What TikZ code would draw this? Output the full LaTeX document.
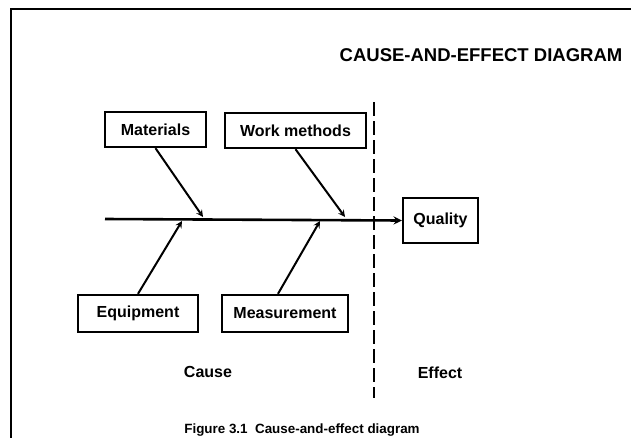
\documentclass[tikz,border=0pt]{standalone}
\usepackage{fontspec}
\setmainfont{Liberation Sans}
\begin{document}
\begin{tikzpicture}[x=1pt,y=-1pt,>=stealth,line width=2pt,
	cbox/.style={draw,line width=2.4pt,inner sep=0pt,font=\fontsize{16}{18}\selectfont\bfseries},
	lbl/.style={font=\fontsize{16}{18}\selectfont\bfseries}]
	\clip (0,0) rectangle (631,437);
	\draw[line width=2.5pt] (11,445) -- (11,9) -- (640,9);
	\node[font=\fontsize{18.5}{20}\selectfont\bfseries] (title) at (481,55) {CAUSE-AND-EFFECT DIAGRAM};
	% cause boxes
	\node[cbox,minimum width=101,minimum height=35] (mat) at (155.5,129.5) {Materials};
	\node[cbox,minimum width=141,minimum height=35] (wm) at (295.5,130.5) {Work methods};
	\node[cbox,minimum width=120,minimum height=37] (eq) at (138,313.5) {Equipment};
	\node[cbox,minimum width=126,minimum height=37] (ms) at (285,313.5) {Measurement};
	\node[cbox,minimum width=75,minimum height=45] (q) at (440.5,220.5) {Quality};
	% spine
	\coordinate (tail) at (105,219);
	\draw[->,line width=2.6pt] (tail) -- (q.west);
	\coordinate (m1) at (203,217);
	\coordinate (m2) at (345,217);
	\coordinate (e1) at (182,221);
	\coordinate (e2) at (320,221);
	\draw[->] (mat.south) -- (m1);
	\draw[->] (wm.south) -- (m2);
	\draw[->] (eq.north) -- (e1);
	\draw[->] ([xshift=-7pt]ms.north) -- (e2);
	% divider
	\draw[line width=2.4pt,dash pattern=on 14pt off 5pt] (374,102) -- (374,398);
	\node[lbl] (cause) at (208,372) {Cause};
	\node[lbl] (effect) at (440,373) {Effect};
	\node[font=\fontsize{13.4}{15}\selectfont\bfseries,anchor=base] (cap) at (302,433) {Figure 3.1\ \ Cause-and-effect diagram};
\end{tikzpicture}
\end{document}
